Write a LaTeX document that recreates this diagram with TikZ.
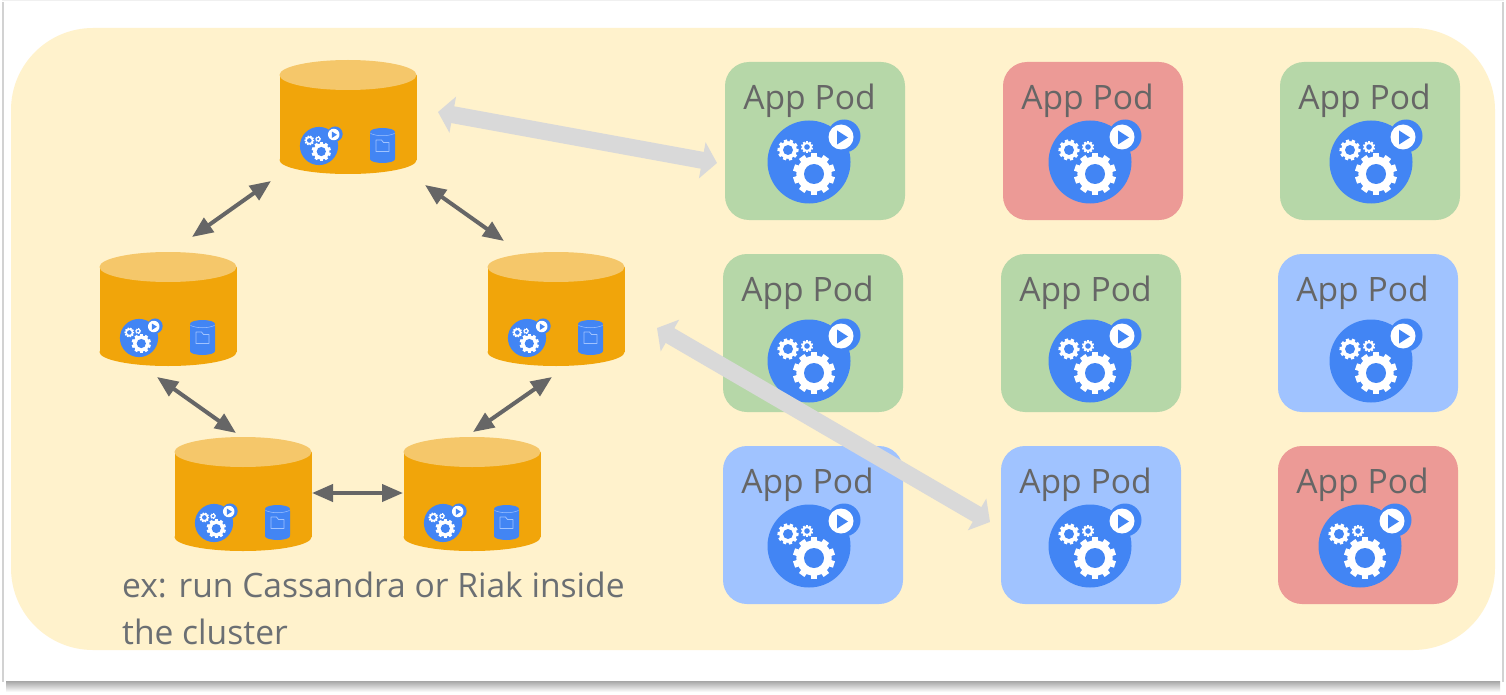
\documentclass[tikz,border=0pt]{standalone}
\usepackage{fontspec}
\setmainfont{Open Sans}
\usetikzlibrary{arrows.meta}

\definecolor{clusterbg}{HTML}{FFF2CC}
\definecolor{podgreen}{HTML}{B6D7A8}
\definecolor{podred}{HTML}{EC9A96}
\definecolor{podblue}{HTML}{A0C3FF}
\definecolor{iconblue}{HTML}{4285F4}
\definecolor{dbbody}{HTML}{F1A50A}
\definecolor{dbtopc}{HTML}{F5C76A}
\definecolor{thickgray}{HTML}{D9D9D9}
\definecolor{thingray}{HTML}{666666}
\definecolor{notegray}{HTML}{6B6F73}

\newcommand{\gearwheel}[5]{%
\begin{scope}[shift={(#1,#2)}]
\fill[white] (0,0) circle (#3*0.84);
\foreach \a in {0,36,...,324}
\fill[white,rotate=\a+#5] (-#3*0.16,0) rectangle (#3*0.16,#3);
\fill[iconblue] (0,0) circle (#4);
\end{scope}}

\newcommand{\appicon}[3]{%
\begin{scope}[shift={(#1,#2)},scale=#3]
\fill[iconblue] (0,0) circle (41.5);
\fill[iconblue] (35,-26) circle (16.5);
\fill[white] (32,-25) circle (12.5);
\fill[iconblue] (28,-31.5) -- (39,-24.5) -- (28,-17.5) -- cycle;
\gearwheel{5}{12}{21}{10}{0}
\gearwheel{-21}{-12}{10.5}{5}{15}
\gearwheel{-2}{-15}{6}{2.8}{0}
\end{scope}}

\newcommand{\dbicon}[2]{%
\begin{scope}[shift={(#1,#2)}]
\fill[iconblue,rounded corners=2pt] (-12.5,-13) rectangle (12.5,15);
\fill[iconblue] (0,-13) ellipse (12.5 and 4);
\fill[iconblue] (0,14) ellipse (12.5 and 4);
\draw[podblue,line width=0.5pt] (-12,-11.5) .. controls (-5,-8.5) and (5,-8.5) .. (12,-11.5);
\draw[podblue,line width=0.8pt,line join=round] (-6.5,6.5) -- (-6.5,-5) -- (-1,-5) -- (1,-2.5) -- (6.5,-2.5) -- (6.5,6.5) -- cycle;
\end{scope}}

\newcommand{\dbdrum}[2]{%
\fill[dbbody] (#1-68.5,#2-42) rectangle (#1+68.5,#2+43);
\fill[dbbody] (#1,#2+43) ellipse (68.5 and 14);
\fill[dbtopc] (#1,#2-42) ellipse (68.5 and 15);}

\tikzset{
x=1pt,y=-1pt,
pod/.style={draw=none,rounded corners=24pt,minimum width=180pt,minimum height=158pt},
podtext/.style={text=thingray,anchor=base,font=\fontsize{33.6}{40}\selectfont},
dbnode/.style={draw=none,minimum width=137pt,minimum height=114pt,inner sep=0pt},
peerarrow/.style={thingray,line width=4pt,{Triangle[length=21pt,width=17pt]}-{Triangle[length=21pt,width=17pt]}},
apparrow/.style={thickgray,line width=17pt,{Triangle[length=15pt,width=36pt]}-{Triangle[length=15pt,width=36pt]}}
}

\begin{document}
\begin{tikzpicture}

\useasboundingbox (0,0) rectangle (1506,695);

% frame and shadow
\fill[white] (0,0) rectangle (1506,695);
\shade[top color=gray!70,bottom color=white] (6,681) rectangle (1500,692);
\fill[gray!35] (2,2) rectangle (3.5,682);
\fill[gray!35] (1502,2) rectangle (1503.5,682);
\fill[gray!12] (2,0) rectangle (1503.5,1);

\fill[clusterbg,rounded corners=82pt] (11,28) rectangle (1495,650);

% storage ring
\foreach \dbname/\x/\y in {dbtop/348/117,dbleft/168/309,dbright/556/309,dbbl/243/494,dbbr/472/494}
{
\dbdrum{\x}{\y}
\node[dbnode] (\dbname) at (\x,\y) {};
\appicon{\x-29}{\y+29}{0.46}
\dbicon{\x+34.5}{\y+28}
}

\coordinate (toppeerl) at (271,181);
\coordinate (leftpeert) at (192,237);
\coordinate (toppeerr) at (425,185);
\coordinate (rightpeert) at (504,241);
\coordinate (leftpeerb) at (157,377);
\coordinate (blpeert) at (236,433);
\coordinate (rightpeerb) at (552,377);
\coordinate (brpeert) at (473,432);
\coordinate (blpeerr) at (312,493);
\coordinate (brpeerl) at (403,493);

\foreach \a/\b in {toppeerl/leftpeert,toppeerr/rightpeert,leftpeerb/blpeert,rightpeerb/brpeert,blpeerr/brpeerl}
\draw[peerarrow] (\a) -- (\b);

% app pods
\foreach \podname/\x/\y/\col/\ix/\iy in {
podaa/815/141/podgreen/809/162,
podab/1093/141/podred/1090/162,
podac/1370/141/podgreen/1371/162,
podba/813/333/podgreen/809/361,
podbb/1091/333/podgreen/1090/361,
podbc/1368/333/podblue/1371/361,
podca/813/525/podblue/809/546,
podcb/1091/525/podblue/1090/546,
podcc/1368/525/podred/1360/546}
{
\node[pod,fill=\col] (\podname) at (\x,\y) {};
\node[podtext] (\podname text) at (\x-5.5,\y-31.5) {App Pod};
\appicon{\ix}{\iy}{1}
}

\coordinate (topapp) at (438,112);
\coordinate (podapp) at (717,163);
\coordinate (rightapp) at (657,328);
\coordinate (podcbapp) at (990,522);

\draw[apparrow] (topapp) -- (podapp);
\draw[apparrow] (rightapp) -- (podcbapp);

\node[text=notegray,anchor=north west,align=left,inner sep=0pt,font=\fontsize{33.6}{47}\selectfont] (note) at (122,572) {ex: run Cassandra or Riak inside\\the cluster};

\end{tikzpicture}
\end{document}
